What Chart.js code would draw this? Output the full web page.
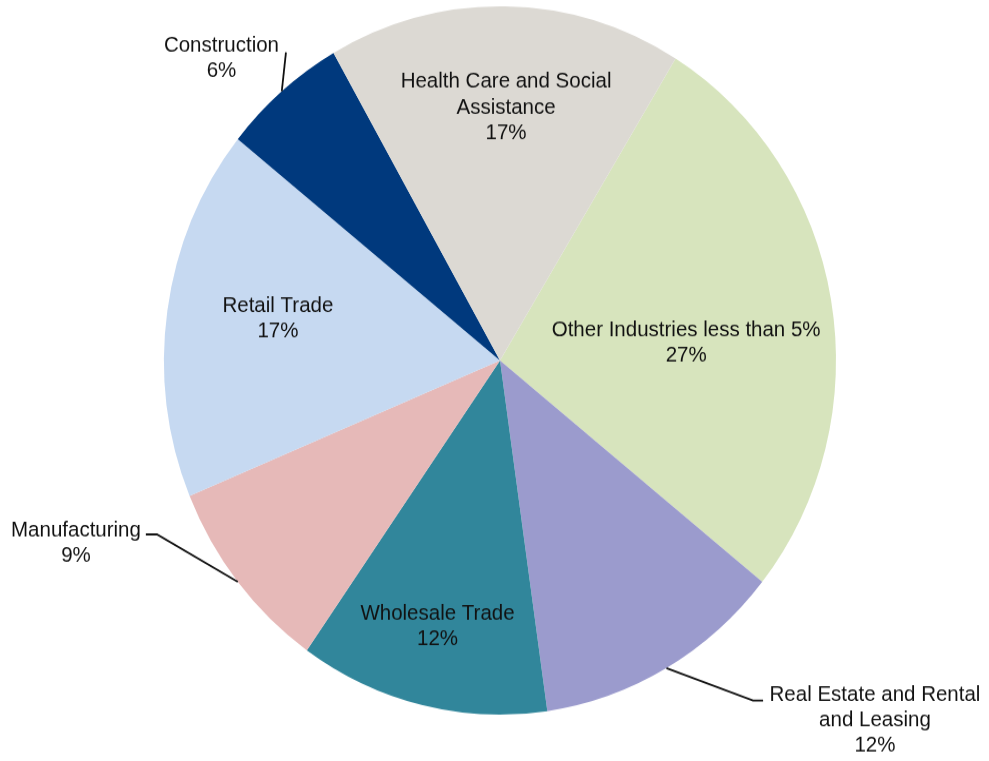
<!DOCTYPE html>
<html>
<head>
<meta charset="utf-8">
<script src="https://cdn.jsdelivr.net/npm/chart.js@4.4.1/dist/chart.umd.min.js"></script>
<style>
  html, body { margin: 0; padding: 0; background: #fff; }
  #industry-chart { display: block; }
</style>
</head>
<body>
<canvas id="industry-chart" width="989" height="722" style="width:989px;height:761px"></canvas>
<script>
const industries = [
  'Other Industries less than 5%',
  'Real Estate and Rental and Leasing',
  'Wholesale Trade',
  'Manufacturing',
  'Retail Trade',
  'Construction',
  'Health Care and Social Assistance'
];
const shares = [27, 12, 12, 9, 17, 6, 17];
const sliceColors = ['#d7e4bd', '#9b9bcd', '#31869b', '#e6b9b8', '#c6d9f1', '#00397d', '#dcd9d3'];

// label lines for each slice (last line is the percentage)
const labelLines = [
  ['Other Industries less than 5%'],
  ['Real Estate and Rental', 'and Leasing'],
  ['Wholesale Trade'],
  ['Manufacturing'],
  ['Retail Trade'],
  ['Construction'],
  ['Health Care and Social', 'Assistance']
];

// label centres and leader bends, in units of the pie radius from its centre
const labelSpots = [
  { at: [0.554, -0.050] },
  { at: [1.116, 1.016], leader: [[0.753, 0.960], [0.783, 0.960]] },
  { at: [-0.186, 0.751] },
  { at: [-1.262, 0.515], leader: [[-1.021, 0.491], [-1.054, 0.491]] },
  { at: [-0.661, -0.117] },
  { at: [-0.829, -0.854], leader: [[-0.637, -0.870]] },
  { at: [0.018, -0.714] }
];

const sliceLabels = {
  id: 'sliceLabels',
  afterDatasetsDraw(chart) {
    const ctx = chart.ctx;
    const meta = chart.getDatasetMeta(0);
    ctx.save();
    ctx.font = '20.5px "Liberation Sans", Arial, sans-serif';
    ctx.fillStyle = '#111';
    ctx.strokeStyle = '#111';
    ctx.lineWidth = 1.8;
    ctx.textAlign = 'center';
    ctx.textBaseline = 'middle';
    const lineH = 24.3;
    meta.data.forEach((arc, i) => {
      const p = arc.getProps(['x', 'y', 'startAngle', 'endAngle', 'outerRadius'], true);
      const r = p.outerRadius;
      const spot = labelSpots[i];
      if (spot.leader) {
        const mid = (p.startAngle + p.endAngle) / 2;
        ctx.beginPath();
        ctx.moveTo(p.x + Math.cos(mid) * r, p.y + Math.sin(mid) * r);
        spot.leader.forEach(pt => ctx.lineTo(p.x + pt[0] * r, p.y + pt[1] * r));
        ctx.stroke();
      }
      const lines = labelLines[i].concat([shares[i] + '%']);
      const cx = p.x + spot.at[0] * r;
      const cy = p.y + spot.at[1] * r - (lines.length - 1) * lineH / 2;
      lines.forEach((t, k) => ctx.fillText(t, cx, cy + k * lineH));
    });
    ctx.restore();
  }
};

const industryCtx = document.getElementById('industry-chart').getContext('2d');
const industryChart = new Chart(industryCtx, {
  type: 'pie',
  data: {
    labels: industries,
    datasets: [{
      data: shares,
      backgroundColor: sliceColors,
      borderWidth: 0
    }]
  },
  options: {
    responsive: false,
    animation: false,
    rotation: 31.5,
    layout: {
      padding: { left: 164, right: 153, top: 6, bottom: 44 }
    },
    plugins: {
      legend: { display: false },
      tooltip: { enabled: false }
    }
  },
  plugins: [sliceLabels]
});
</script>
</body>
</html>
